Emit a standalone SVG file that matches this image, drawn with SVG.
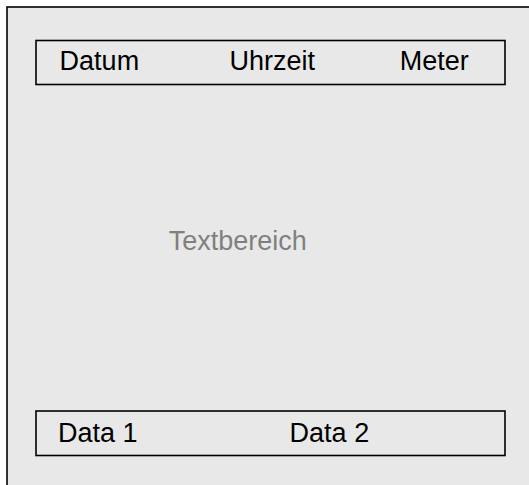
<svg xmlns="http://www.w3.org/2000/svg" width="529" height="485" viewBox="0 0 529 485">
<style>
.bar{fill:none;stroke:#000;stroke-width:1.6}
.t{font-family:"Liberation Sans",Arial,sans-serif;font-size:27px;fill:#000}
.g{fill:#808080}
</style>
<rect width="529" height="485" fill="#fff"/>
<g id="panel">
<rect x="7" y="7" width="540" height="500" fill="#e8e8e8" stroke="#000" stroke-width="1.6"/>
</g>
<g id="header">
<rect class="bar" x="36" y="40.5" width="469" height="44"/>
<text class="t" x="59.6" y="70">Datum</text>
<text class="t" x="229.5" y="70">Uhrzeit</text>
<text class="t" x="399.7" y="70">Meter</text>
</g>
<g id="textarea">
<text class="t g" x="168.7" y="250">Textbereich</text>
</g>
<g id="footer">
<rect class="bar" x="36" y="411" width="469" height="44.5"/>
<text class="t" x="58" y="441.7">Data 1</text>
<text class="t" x="289.6" y="441.7">Data 2</text>
</g>
<g id="connectors"></g>
</svg>
